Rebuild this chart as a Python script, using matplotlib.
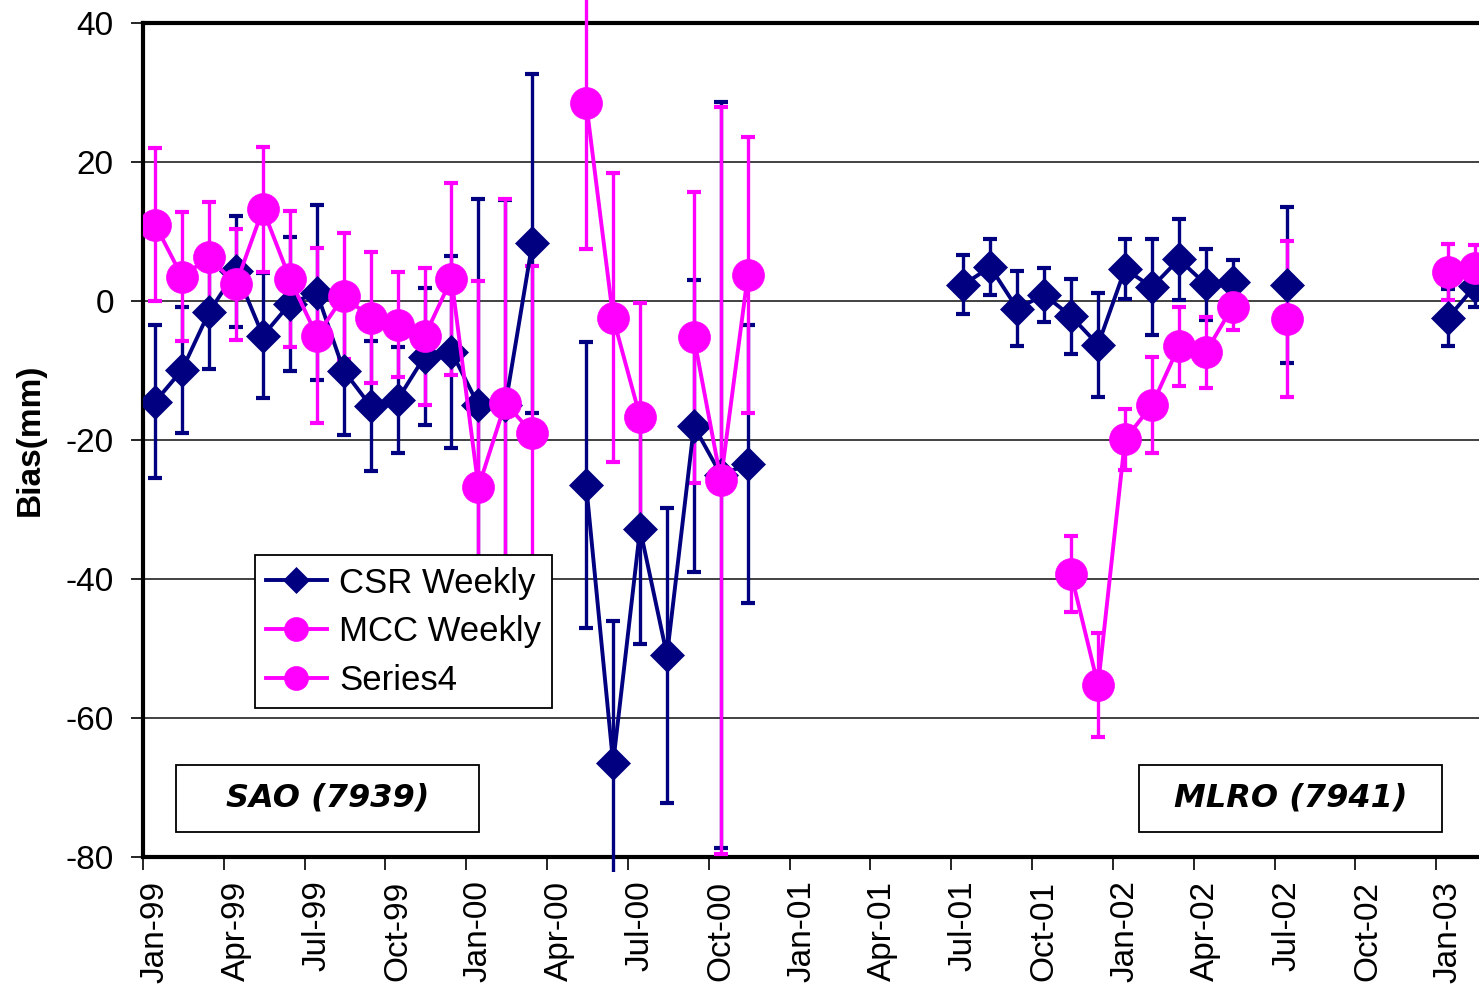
import numpy as np
import matplotlib.pyplot as plt
from matplotlib.patches import Rectangle

plt.rcParams['font.family'] = ['Liberation Sans', 'DejaVu Sans']
plt.rcParams['axes.unicode_minus'] = False

nan = np.nan

# month index, 0 = Jan-99
months = np.arange(50)
tick_labels = ['Jan-99', 'Apr-99', 'Jul-99', 'Oct-99', 'Jan-00', 'Apr-00', 'Jul-00',
               'Oct-00', 'Jan-01', 'Apr-01', 'Jul-01', 'Oct-01', 'Jan-02', 'Apr-02',
               'Jul-02', 'Oct-02', 'Jan-03']

csr = ([-14.5, -9.9, -1.6, 4.3, -5.0, -0.4, 1.2, -10.0, -15.1, -14.2, -8.0, -7.3, -15.0, -15.0, 8.3]
       + [nan] + [-26.5, -66.5, -32.8, -51.0, -18.0, -25.0, -23.5] + [nan] * 7
       + [2.35, 4.9, -1.1, 0.9, -2.2, -6.3, 4.6, 2.0, 6.0, 2.4, 2.7] + [nan] + [2.3]
       + [nan] * 5 + [-2.4, 2.2])
csr_err = ([11.0, 9.1, 8.2, 8.0, 9.0, 9.6, 12.6, 9.3, 9.3, 7.6, 9.9, 13.8, 29.7, 29.5, 24.4]
           + [nan] + [20.6, 20.5, 16.6, 21.2, 21.0, 53.7, 20.0] + [nan] * 7
           + [4.2, 4.0, 5.4, 3.9, 5.4, 7.5, 4.3, 6.9, 5.8, 5.1, 3.2] + [nan] + [11.2]
           + [nan] * 5 + [4.1, 3.0])

mcc = ([11.0, 3.5, 6.3, 2.4, 13.2, 3.2, -5.0, 0.7, -2.4, -3.4, -5.1, 3.2, -26.8, -14.7, -19.0]
       + [nan] + [28.5, -2.4, -16.7, nan, -5.25, -25.8, 3.75] + [nan] * 27)
mcc_err = ([11.0, 9.3, 8.0, 8.0, 9.0, 9.8, 12.6, 9.1, 9.4, 7.6, 9.9, 13.8, 29.7, 29.4, 24.0]
           + [nan] + [21.0, 20.8, 16.4, nan, 21.0, 53.7, 19.9] + [nan] * 27)

s4 = ([nan] * 34 + [-39.3, -55.3, -19.9, -15.0, -6.5, -7.35, -0.8] + [nan] + [-2.55]
      + [nan] * 5 + [4.15, 4.7])
s4_err = ([nan] * 34 + [5.5, 7.5, 4.4, 6.9, 5.7, 5.1, 3.4] + [nan] + [11.2]
          + [nan] * 5 + [4.0, 3.4])

navy = '#000080'
pink = '#FF00FF'

fig = plt.figure(figsize=(14.79, 9.92), dpi=100)
ax = fig.add_axes([0.0967, 0.1361, 0.9033, 0.8407])

x = months + 0.45
clip = Rectangle((0, -0.018), 1, 1.06, transform=ax.transAxes)

series = [
    (csr, csr_err, navy, 'D', 17, 'CSR Weekly'),
    (mcc, mcc_err, pink, 'o', 23, 'MCC Weekly'),
    (s4, s4_err, pink, 'o', 23, 'Series4'),
]
handles = []
for vals, errs, col, mk, ms, lab in series:
    eb = ax.errorbar(x, vals, yerr=errs, fmt='none', ecolor=col, elinewidth=2.4,
                     capsize=5, capthick=3, zorder=3)
    for art in list(eb[1]) + list(eb[2]):
        art.set_clip_path(clip)
    h, = ax.plot(x, vals, color=col, lw=2.8, marker=mk, markersize=ms,
                 markeredgewidth=0.5, markeredgecolor=col, zorder=4, label=lab)
    handles.append(h)

ax.set_xlim(0, 49.59)
ax.set_ylim(-80, 40)
ax.set_yticks(np.arange(-80, 41, 20))
ax.grid(axis='y', color='#333333', lw=1.3)
ax.set_axisbelow(True)

ax.set_xticks(np.arange(0, 49, 3))
ax.set_xticklabels([])
ax.set_xticks(np.arange(0, 49, 3) + 0.45, minor=True)
ax.set_xticklabels(tick_labels, minor=True, rotation=90, fontsize=24)
ax.tick_params(axis='x', which='major', direction='out', length=9, width=1.2)
ax.tick_params(axis='x', which='minor', length=0, pad=17)
ax.tick_params(axis='y', direction='out', length=9, width=1.2, labelsize=24, pad=12)

for s in ['left', 'top', 'bottom']:
    ax.spines[s].set_linewidth(3)
ax.spines['right'].set_visible(False)

ax.set_ylabel('Bias(mm)', fontsize=24, fontweight='bold')
ax.yaxis.set_label_coords(-0.073, 0.5)

leg = ax.legend(handles=handles, loc='lower left', bbox_to_anchor=(0.0838, 0.1787),
                fontsize=25, frameon=True, fancybox=False, edgecolor='black',
                framealpha=1, markerscale=0.75, handlelength=1.75, handletextpad=0.35,
                labelspacing=0.45, borderpad=0.32, borderaxespad=0)
leg.get_frame().set_linewidth(1.3)
leg.set_zorder(7)

for (x0, x1, cx, txt) in [(0.0247, 0.2515, 0.1381, 'SAO (7939)'),
                          (0.7455, 0.9723, 0.8589, 'MLRO (7941)')]:
    ax.add_patch(Rectangle((x0, 0.030), x1 - x0, 0.0803, transform=ax.transAxes,
                           fill=True, facecolor='white', edgecolor='black', lw=1.3, zorder=5))
    ax.text(cx, 0.0707, txt, transform=ax.transAxes, ha='center', va='center',
            fontsize=23, fontweight='bold', style='italic', family='DejaVu Sans', zorder=6)

fig.savefig('out.png', dpi=100)
